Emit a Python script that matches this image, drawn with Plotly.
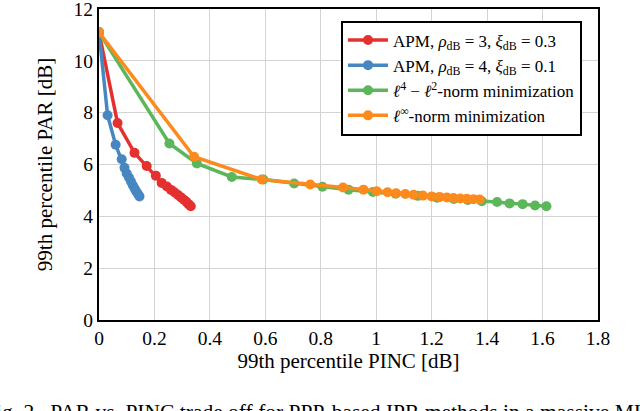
import plotly.graph_objs as go

# APM, rho_dB = 3, xi_dB = 0.3
apm3_pinc = [0, 0.067, 0.128, 0.172, 0.205, 0.226, 0.245, 0.260, 0.273, 0.285,
             0.296, 0.306, 0.315, 0.323, 0.331]
apm3_par = [11.1, 7.6, 6.45, 5.94, 5.57, 5.29, 5.15, 5.02, 4.92, 4.82,
            4.73, 4.64, 4.56, 4.47, 4.39]

# APM, rho_dB = 4, xi_dB = 0.1
apm4_pinc = [0, 0.031, 0.060, 0.082, 0.092, 0.100, 0.108, 0.115, 0.122, 0.128,
             0.134, 0.140, 0.146]
apm4_par = [11.1, 7.9, 6.76, 6.2, 5.87, 5.65, 5.5, 5.35, 5.2, 5.08,
            4.97, 4.87, 4.77]

# l4 - l2 norm minimization
l4l2_pinc = [0, 0.254, 0.353, 0.479, 0.593, 0.704, 0.806, 0.90, 0.988, 1.07,
             1.15, 1.22, 1.28, 1.33, 1.381, 1.436, 1.481, 1.528, 1.573, 1.614]
l4l2_par = [11.1, 6.81, 6.04, 5.52, 5.42, 5.27, 5.14, 5.03, 4.94, 4.87,
            4.79, 4.72, 4.67, 4.63, 4.58, 4.55, 4.50, 4.47, 4.42, 4.39]

# l-inf norm minimization
linf_pinc = [0, 0.343, 0.587, 0.762, 0.88, 0.954, 1.002, 1.041, 1.072, 1.105,
             1.135, 1.168, 1.20, 1.229, 1.255, 1.279, 1.303, 1.327, 1.351, 1.373]
linf_par = [11.1, 6.3, 5.42, 5.23, 5.11, 5.03, 4.97, 4.93, 4.89, 4.86,
            4.83, 4.80, 4.77, 4.75, 4.73, 4.71, 4.69, 4.68, 4.66, 4.65]

x_ticks = [0, 0.2, 0.4, 0.6, 0.8, 1, 1.2, 1.4, 1.6, 1.8]
x_labels = ['0', '0.2', '0.4', '0.6', '0.8', '1', '1.2', '1.4', '1.6', '1.8']
y_ticks = [0, 2, 4, 6, 8, 10, 12]

series = [
    (apm3_pinc, apm3_par, 'APM, <i>ρ</i><sub>dB</sub> = 3, <i>ξ</i><sub>dB</sub> = 0.3', '#e4312f'),
    (apm4_pinc, apm4_par, 'APM, <i>ρ</i><sub>dB</sub> = 4, <i>ξ</i><sub>dB</sub> = 0.1', '#4787c1'),
    (l4l2_pinc, l4l2_par, '<i>ℓ</i><sup>4</sup> − <i>ℓ</i><sup>2</sup>-norm minimization', '#5cb65a'),
    (linf_pinc, linf_par, '<i>ℓ</i><sup>∞</sup>-norm minimization', '#fd8a1d'),
]

serif = 'Liberation Serif, Times New Roman, Times, serif'

data = []
for xs, ys, name, col in series:
    data.append(go.Scatter(x=xs, y=ys, name=name, mode='lines+markers',
                           line=dict(color=col, width=3.5),
                           marker=dict(color=col, size=10)))

axis_common = dict(showgrid=True, gridcolor='#d3d3d3', gridwidth=1,
                   showline=True, linecolor='black', linewidth=2, mirror=True,
                   zeroline=False, ticks='', automargin=False,
                   ticklabeloverflow='allow',
                   tickfont=dict(family=serif, size=19.5, color='black'))

layout = go.Layout(
    template='none',
    width=640, height=411,
    margin=dict(l=99, r=42, t=9, b=91),
    paper_bgcolor='white', plot_bgcolor='white',
    font=dict(family=serif, size=18, color='black'),
    showlegend=True,
    xaxis=dict(range=[0, 1.8], tickvals=x_ticks, ticktext=x_labels,
               title=dict(text='99th percentile PINC [dB]',
                          font=dict(family=serif, size=21), standoff=2),
               **axis_common),
    yaxis=dict(range=[0, 12], tickvals=y_ticks,
               title=dict(text='99th percentile PAR [dB]',
                          font=dict(family=serif, size=21), standoff=15),
               **axis_common),
    legend=dict(x=0.968, y=0.963, xanchor='right', yanchor='top',
                bgcolor='white', bordercolor='black', borderwidth=2,
                font=dict(family=serif, size=17, color='black'),
                tracegroupgap=0, itemwidth=40),
    annotations=[dict(text='Fig. 2.  PAR vs. PINC trade off for PPP-based IPR methods in a massive MIMO system',
                      xref='paper', yref='paper', x=-0.234, y=-0.295,
                      xanchor='left', yanchor='middle', showarrow=False,
                      font=dict(family=serif, size=21.5, color='black'))],
)

fig = go.Figure(data=data, layout=layout)
fig.write_html('out.html', config={'displayModeBar': False},
               post_script="document.body.style.margin='0px';")
